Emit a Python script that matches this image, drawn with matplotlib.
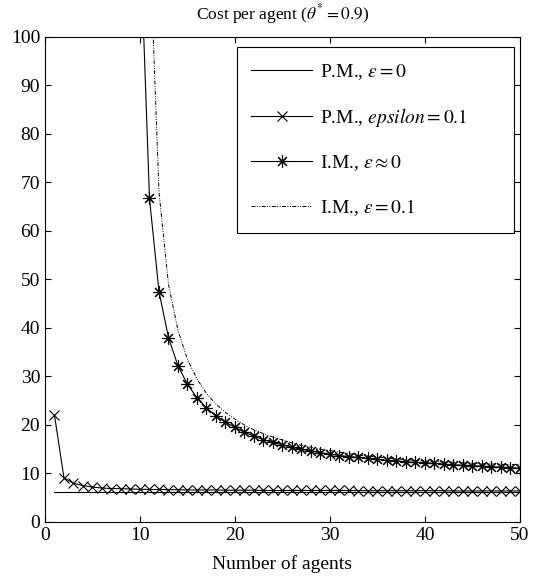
import numpy as np
import matplotlib
matplotlib.use("Agg")
import matplotlib.pyplot as plt

plt.rcParams["font.family"] = ["Liberation Serif", "DejaVu Serif"]
plt.rcParams["mathtext.fontset"] = "stix"

# number of agents
agents = list(range(1, 51))

# P.M., eps = 0 (flat)
pm_eps0 = [6.2] * 50

# P.M., eps = 0.1
pm_eps01 = [22.0, 9.1, 8.0, 7.5, 7.2, 7.0, 6.9, 6.85, 6.8, 6.75,
            6.7, 6.7, 6.65, 6.65, 6.6, 6.6, 6.6, 6.6, 6.55, 6.55,
            6.55, 6.55, 6.5, 6.5, 6.5, 6.5, 6.5, 6.5, 6.5, 6.5,
            6.5, 6.5, 6.45, 6.45, 6.45, 6.45, 6.45, 6.45, 6.45, 6.45,
            6.45, 6.45, 6.4, 6.4, 6.4, 6.4, 6.4, 6.4, 6.4, 6.4]

# I.M., eps ~ 0 (starts at 10 agents)
im_agents = list(range(10, 51))
im_eps0 = [122.0, 66.7, 47.5, 38.0, 32.2, 28.4, 25.6, 23.5, 21.9, 20.6,
           19.5, 18.5, 17.7, 17.0, 16.4, 15.9, 15.4, 15.0, 14.6, 14.3,
           14.0, 13.7, 13.5, 13.3, 13.1, 12.9, 12.7, 12.6, 12.4, 12.3,
           12.2, 12.1, 11.9, 11.8, 11.7, 11.6, 11.5, 11.4, 11.3, 11.2,
           11.1]

# I.M., eps = 0.1 (starts at 11 agents)
im01_agents = list(range(11, 51))
im_eps01 = [121.0, 68.0, 49.0, 39.5, 33.5, 29.5, 26.5, 24.3, 22.6, 21.2,
            20.0, 19.0, 18.2, 17.5, 16.9, 16.3, 15.8, 15.4, 15.0, 14.7,
            14.4, 14.1, 13.8, 13.6, 13.4, 13.2, 13.0, 12.9, 12.7, 12.6,
            12.5, 12.4, 12.3, 12.2, 12.1, 12.0, 11.95, 11.9, 11.85, 11.8]

fig = plt.figure(figsize=(5.33, 5.78), dpi=100)
ax = fig.add_axes([0.0844, 0.0969, 0.8912, 0.8391])

lw = 0.8
ax.plot(agents, pm_eps0, color="black", lw=lw, label=r"P.M., $\varepsilon = 0$")
ax.plot(agents, pm_eps01, color="black", lw=lw, marker="x", markersize=7,
        markeredgewidth=0.8, label=r"P.M., $epsilon = 0.1$")
ax.plot(im_agents, im_eps0, color="black", lw=lw, marker=(8, 2, 0), markersize=9,
        markeredgewidth=0.8, label=r"I.M., $\varepsilon \approx 0$")
ax.plot(im01_agents, im_eps01, color="black", lw=0.7, linestyle=(0, (4, 1.5, 1, 1.5, 1, 1.5)),
        label=r"I.M., $\varepsilon = 0.1$")

ax.set_xlim(0, 50)
ax.set_ylim(0, 100)
ax.set_xticks([0, 10, 20, 30, 40, 50])
ax.set_yticks(range(0, 101, 10))
ax.tick_params(direction="in", top=True, right=True, labelsize=14, length=4, width=0.8)
for s in ax.spines.values():
    s.set_linewidth(0.8)

ax.set_xlabel("Number of agents", fontsize=14, labelpad=8)
ax.set_title(r"Cost per agent ($\theta^{*} = 0.9$)", fontsize=12.5, pad=13)

leg = ax.legend(loc="upper left", bbox_to_anchor=(0.404, 0.598, 0.583, 0.381),
                mode="expand", fontsize=14, numpoints=1, handlelength=3.1,
                handletextpad=0.4, labelspacing=1.25, borderpad=0.75, borderaxespad=0,
                fancybox=False, edgecolor="black", framealpha=1)
leg.get_frame().set_linewidth(0.8)

fig.savefig("out.png", dpi=100)
